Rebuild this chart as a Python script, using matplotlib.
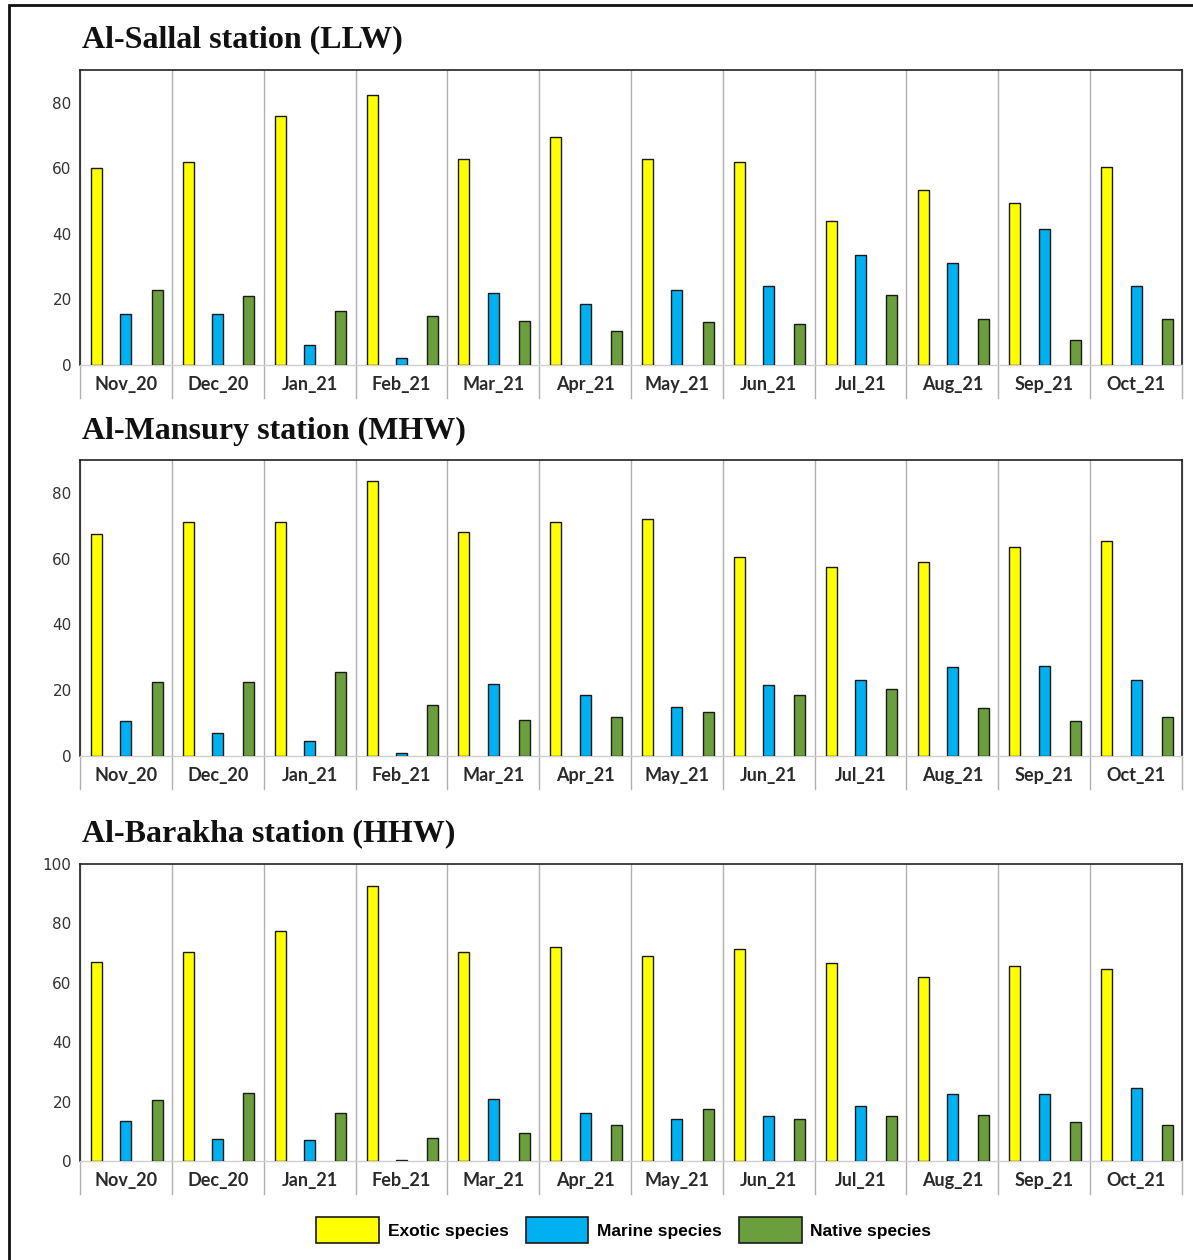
import matplotlib
matplotlib.use('Agg')
import matplotlib.pyplot as plt
import matplotlib.patches as mpatches
import matplotlib.transforms as mtransforms
import numpy as np

months = ['Nov_20', 'Dec_20', 'Jan_21', 'Feb_21', 'Mar_21', 'Apr_21',
          'May_21', 'Jun_21', 'Jul_21', 'Aug_21', 'Sep_21', 'Oct_21']
series_names = ['Exotic species', 'Marine species', 'Native species']

# Al-Sallal station (LLW)
llw_exotic = [60, 62, 76, 82.5, 63, 69.5, 63, 62, 44, 53.5, 49.5, 60.5]
llw_marine = [15.5, 15.5, 6, 2, 22, 18.5, 23, 24, 33.5, 31, 41.5, 24]
llw_native = [23, 21, 16.5, 15, 13.5, 10.5, 13, 12.5, 21.5, 14, 7.5, 14]

# Al-Mansury station (MHW)
mhw_exotic = [67.5, 71, 71, 83.5, 68, 71, 72, 60.5, 57.5, 59, 63.5, 65.5]
mhw_marine = [10.5, 7, 4.5, 1, 22, 18.5, 15, 21.5, 23, 27, 27.5, 23]
mhw_native = [22.5, 22.5, 25.5, 15.5, 11, 12, 13.5, 18.5, 20.5, 14.5, 10.5, 12]

# Al-Barakha station (HHW)
hhw_exotic = [67, 70.5, 77.5, 92.5, 70.5, 72, 69, 71.5, 66.5, 62, 65.5, 64.5]
hhw_marine = [13.5, 7.5, 7, 0.3, 21, 16, 14, 15, 18.5, 22.5, 22.5, 24.5]
hhw_native = [20.5, 23, 16, 7.8, 9.5, 12, 17.5, 14, 15, 15.5, 13, 12]

panels = [
    ('Al-Sallal station (LLW)', [llw_exotic, llw_marine, llw_native], 90, [0, 20, 40, 60, 80]),
    ('Al-Mansury station (MHW)', [mhw_exotic, mhw_marine, mhw_native], 90, [0, 20, 40, 60, 80]),
    ('Al-Barakha station (HHW)', [hhw_exotic, hhw_marine, hhw_native], 100, [0, 20, 40, 60, 80, 100]),
]

colors = ['#FFFF00', '#00B0F0', '#6B9E3C']
offsets = [-0.32, 0.0, 0.34]

W, H = 1193, 1260
fig = plt.figure(figsize=(W / 100, H / 100), dpi=100)

# pixel boxes (top, bottom) of each plot area, and title y
boxes = [(70, 365, 40), (460, 756, 431), (864, 1161, 834)]
left_px, right_px = 80, 1182

# outer frame
fig.patches.append(mpatches.Rectangle((9 / W, -0.05), 1.1, 1 - 5 / H + 0.05,
                                      transform=fig.transFigure, fill=False,
                                      edgecolor='#111111', linewidth=2))

x = np.arange(len(months))
for (title, vals, ymax, yticks), (top, bot, ty) in zip(panels, boxes):
    ax = fig.add_axes([left_px / W, 1 - bot / H, (right_px - left_px) / W, (bot - top) / H])
    for k in range(3):
        ax.bar(x + offsets[k], vals[k], width=0.12, color=colors[k],
               edgecolor='#1a1a1a', linewidth=1, zorder=3)
    ax.set_xlim(-0.5, len(months) - 0.5)
    ax.set_ylim(0, ymax)
    ax.set_yticks(yticks)
    ax.tick_params(axis='y', length=0, pad=6, labelsize=11, labelcolor='#333333')
    ax.set_xticks(x)
    ax.set_xticklabels(months, fontsize=13, color='#2a2a2a', family='Lato', fontweight='bold')
    ax.tick_params(axis='x', length=0, pad=8)
    for s in ['left', 'top', 'right']:
        ax.spines[s].set_color('#222222')
        ax.spines[s].set_linewidth(1.2)
    ax.spines['bottom'].set_color('#cfcfcf')
    ax.spines['bottom'].set_linewidth(1)
    # group separators extending into the label row
    trans = mtransforms.blended_transform_factory(ax.transData, ax.transAxes)
    ext = -33 / (bot - top)
    for b in np.arange(-0.5, len(months), 1.0):
        ax.plot([b, b], [ext, 1], transform=trans, color='#b0b0b0',
                linewidth=1, clip_on=False, zorder=1)
    fig.text(left_px / W + 0.002, 1 - ty / H, title, family='Liberation Serif',
             fontweight='bold', fontsize=23, color='#111111', va='center', ha='left')

handles = [mpatches.Patch(facecolor=c, edgecolor='#1a1a1a', linewidth=1.2) for c in colors]
fig.legend(handles, series_names, loc='center', bbox_to_anchor=(0.523, 1 - 1230 / H),
           ncol=3, frameon=False, handlelength=3.6, handleheight=1.9,
           columnspacing=1.0, handletextpad=0.5,
           prop={'family': 'Liberation Sans', 'weight': 'bold', 'size': 12.5})

fig.savefig('out.png', dpi=100)
